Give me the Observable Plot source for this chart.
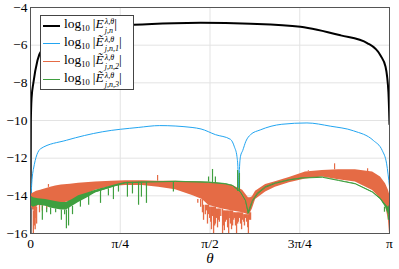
<!DOCTYPE html>
<html><head><meta charset="utf-8">
<script src="https://cdn.jsdelivr.net/npm/d3@7"></script>
<script src="https://cdn.jsdelivr.net/npm/@observablehq/plot@0.6"></script>
<style>
body{margin:0;background:#fff;}
#wrap{position:relative;width:399px;height:269px;font-family:"Liberation Serif",serif;color:#000;}
#wrap svg text{font-family:"Liberation Serif",serif;}
#legend{position:absolute;left:40px;top:15px;width:94px;height:75px;border:1px solid #444;background:#fff;box-sizing:border-box;}
.row{position:absolute;left:0;height:18px;display:flex;align-items:center;font-size:13.5px;white-space:nowrap;}
.sw{display:inline-block;width:17px;margin-left:2px;margin-right:4px;}
.ss{display:inline-flex;flex-direction:column;font-size:8px;line-height:9px;margin-left:1px;font-style:italic;vertical-align:4px;}
.sub10{font-size:8.5px;position:relative;top:3px;margin-right:3px;}
</style></head>
<body><div id="wrap"></div>
<script>
// x values are θ/π
const xTicks = [0, 0.25, 0.5, 0.75, 1];
const xTickLabels = ["0", "π/4", "π/2", "3π/4", "π"];
const yTicks = [-16, -14, -12, -10, -8, -6, -4];
const yTickLabels = ["−16", "−14", "−12", "−10", "−8", "−6", "−4"];

const seriesColors = ["#000000", "#22a5f1", "#e56b45", "#3f9f3f"];
const serif = "'Liberation Serif', serif";

// log10|E|
const blackTheta = [0, 0.001, 0.003, 0.008, 0.0195, 0.036, 0.084, 0.195, 0.287, 0.40, 0.474, 0.613, 0.752, 0.864, 0.939, 0.975, 0.989, 0.997, 1.0];
const blackLog   = [-16, -10, -8.8, -8.0, -6.8, -6.1, -5.35, -5.07, -4.92, -4.83, -4.81, -4.86, -5.02, -5.48, -5.9, -6.55, -7.15, -8.5, -10.2];

// log10|E~1|
const blueTheta = [0, 0.003, 0.008, 0.028, 0.1, 0.2, 0.3, 0.36, 0.45, 0.475, 0.515, 0.557, 0.568, 0.575, 0.578, 0.580, 0.582, 0.585, 0.591, 0.6, 0.613, 0.64, 0.70, 0.77, 0.835, 0.90, 0.955, 0.98, 0.992, 1.0];
const blueLog   = [-15, -13.5, -12.6, -11.5, -11.05, -10.6, -10.37, -10.27, -10.37, -10.45, -10.75, -11.0, -11.4, -11.9, -12.6, -13.9, -12.6, -11.9, -11.6, -11.1, -10.75, -10.5, -10.2, -10.13, -10.3, -10.55, -11.06, -11.6, -12.3, -13.5];

// log10|E~2| : dense band (upper / lower envelope) + spikes
const orangeTheta = [0, 0.003, 0.008, 0.017, 0.028, 0.042, 0.056, 0.070, 0.086, 0.111, 0.134, 0.181, 0.226, 0.265, 0.312, 0.357, 0.404, 0.451, 0.479, 0.496, 0.515, 0.535, 0.563, 0.591, 0.607, 0.613, 0.618, 0.627, 0.655, 0.682, 0.721, 0.766, 0.813, 0.858, 0.905, 0.953, 0.975, 0.989, 0.997, 1.0];
const orangeHigh  = [-14.0, -13.9, -13.85, -13.75, -13.7, -13.62, -13.55, -13.48, -13.42, -13.38, -13.33, -13.27, -13.22, -13.2, -13.2, -13.22, -13.22, -13.25, -13.28, -13.3, -13.33, -13.36, -13.45, -13.7, -14.1, -14.1, -14.05, -13.75, -13.4, -13.25, -13.02, -12.74, -12.65, -12.62, -12.62, -12.74, -13.0, -13.36, -13.7, -13.9];
const orangeLow   = [-14.5, -14.6, -14.8, -14.6, -14.4, -14.3, -14.35, -14.4, -14.4, -14.3, -14.1, -13.7, -13.5, -13.45, -13.45, -13.54, -13.68, -13.98, -14.2, -14.5, -14.6, -14.7, -14.8, -14.9, -15.0, -14.9, -14.7, -14.2, -13.8, -13.55, -13.3, -13.1, -13.0, -13.15, -13.27, -13.72, -14.16, -14.5, -15.3, -16];
const orangeSpikeTheta = [0.008, 0.011, 0.013, 0.015, 0.017, 0.025, 0.033, 0.045, 0.466, 0.474, 0.479, 0.482, 0.487, 0.490, 0.493, 0.496, 0.499, 0.502, 0.504, 0.507, 0.510, 0.513, 0.515, 0.518, 0.521, 0.524, 0.526, 0.530, 0.535, 0.538, 0.540, 0.543, 0.546, 0.549, 0.552, 0.555, 0.557, 0.560, 0.563, 0.566, 0.568, 0.571, 0.574, 0.577, 0.579, 0.582, 0.585, 0.588, 0.591, 0.594, 0.596, 0.599, 0.602, 0.605, 0.607, 0.610, 0.613];
const orangeSpikeLog   = [-16, -15.6, -15.8, -15.2, -15.5, -14.9, -14.8, -14.7, -14.4, -14.6, -14.9, -15.3, -15.0, -14.8, -15.5, -15.0, -15.2, -15.4, -15.8, -15.1, -16, -15.6, -15.5, -15.2, -15.7, -15.3, -15.4, -15.1, -16, -15.6, -15.85, -15.4, -15.3, -15.7, -16, -15.2, -15.5, -15.8, -15.6, -15.3, -15.2, -15.6, -16, -15.5, -15.4, -15.2, -15.5, -15.8, -15.3, -15.4, -15.6, -15.2, -15.4, -15.7, -16, -15.3, -15.3];
const orangeUpTheta = [0.050, 0.354, 0.774, 0.847, 0.939];
const orangeUpLog   = [-13.4, -12.92, -12.7, -12.3, -12.56];

// log10|E~3| : band + spikes
const greenTheta = [0, 0.008, 0.022, 0.042, 0.056, 0.070, 0.086, 0.100, 0.117, 0.134, 0.159, 0.181, 0.217, 0.245, 0.265, 0.334, 0.404, 0.496, 0.543, 0.563, 0.585, 0.599, 0.607, 0.618, 0.632, 0.655, 0.682, 0.721, 0.758, 0.813, 0.858, 0.905, 0.953, 0.975, 0.989, 0.997, 1.0];
const greenHigh  = [-14.0, -14.1, -14.15, -14.2, -14.25, -14.3, -14.35, -14.35, -14.2, -14.0, -13.85, -13.7, -13.52, -13.37, -13.29, -13.25, -13.22, -13.27, -13.35, -13.44, -13.77, -14.22, -14.85, -14.27, -13.87, -13.52, -13.32, -13.14, -13.04, -13.0, -13.17, -13.35, -13.78, -14.12, -14.45, -14.6, -14.5];
const greenLow   = [-14.5, -14.6, -14.5, -14.55, -14.65, -14.7, -14.75, -14.75, -14.55, -14.35, -14.1, -13.85, -13.63, -13.45, -13.33, -13.28, -13.25, -13.3, -13.38, -13.47, -13.82, -14.28, -15.0, -14.33, -13.93, -13.56, -13.35, -13.17, -13.07, -13.03, -13.2, -13.38, -13.83, -14.2, -14.6, -15.0, -15.0];
const greenSpikeTheta = [0.033, 0.045, 0.056, 0.070, 0.086, 0.095, 0.100, 0.106, 0.117, 0.139, 0.162, 0.195, 0.217, 0.231, 0.245, 0.270, 0.284, 0.301, 0.309, 0.323, 0.398, 0.986, 0.997];
const greenSpikeLog   = [-15.3, -14.9, -15.0, -14.9, -15.3, -15.0, -15.75, -15.6, -15.0, -14.6, -14.5, -14.4, -14.0, -14.2, -13.8, -14.07, -13.9, -14.5, -14.07, -14.4, -13.8, -14.87, -15.3];
const greenUpTheta = [0.496, 0.507, 0.515, 0.577, 0.582];
const greenUpLog   = [-13.0, -12.6, -13.0, -12.66, -12.8];

const at = (arr, thetas, t) => arr[Math.min(d3.bisectLeft(thetas, t), thetas.length - 1)];
const black = blackTheta.map((t, i) => ({t, v: blackLog[i]}));
const blue = blueTheta.map((t, i) => ({t, v: blueLog[i]}));
const orange = orangeTheta.map((t, i) => ({t, hi: orangeHigh[i], lo: orangeLow[i]}));
const orangeSpikes = orangeSpikeTheta.map((t, i) => ({t, v: orangeSpikeLog[i], base: at(orangeLow, orangeTheta, t)}));
const orangeUps = orangeUpTheta.map((t, i) => ({t, v: orangeUpLog[i], base: at(orangeHigh, orangeTheta, t)}));
const green = greenTheta.map((t, i) => ({t, hi: greenHigh[i], lo: greenLow[i], mid: (greenHigh[i] + greenLow[i]) / 2}));
const greenSpikes = greenSpikeTheta.map((t, i) => ({t, v: greenSpikeLog[i], base: at(greenLow, greenTheta, t)}));
const greenUps = greenUpTheta.map((t, i) => ({t, v: greenUpLog[i], base: at(greenHigh, greenTheta, t)}));

const chart = Plot.plot({
  width: 399, height: 269,
  marginLeft: 30, marginRight: 10, marginTop: 7, marginBottom: 36,
  style: {fontFamily: serif, fontSize: "13.5px", background: "#fff", color: "#000"},
  x: {domain: [0, 1]},
  y: {domain: [-16, -4]},
  marks: [
    Plot.gridX(xTicks, {stroke: "#e3e3e3", strokeOpacity: 1}),
    Plot.gridY(yTicks, {stroke: "#e3e3e3", strokeOpacity: 1}),
    Plot.line(black, {x: "t", y: "v", stroke: seriesColors[0], strokeWidth: 2, curve: "monotone-x", clip: true}),
    Plot.line(blue, {x: "t", y: "v", stroke: seriesColors[1], strokeWidth: 1, curve: "monotone-x", clip: true}),
    Plot.areaY(orange, {x: "t", y1: "lo", y2: "hi", fill: seriesColors[2], clip: true}),
    Plot.ruleX(orangeSpikes, {x: "t", y1: "base", y2: "v", stroke: seriesColors[2], strokeWidth: 1.3, clip: true}),
    Plot.ruleX(orangeUps, {x: "t", y1: "base", y2: "v", stroke: seriesColors[2], strokeWidth: 1.2, clip: true}),
    Plot.areaY(green, {x: "t", y1: "lo", y2: "hi", fill: seriesColors[3], clip: true}),
    Plot.line(green, {x: "t", y: "mid", stroke: seriesColors[3], strokeWidth: 1, clip: true}),
    Plot.ruleX(greenSpikes, {x: "t", y1: "base", y2: "v", stroke: seriesColors[3], strokeWidth: 1.2, clip: true}),
    Plot.ruleX(greenUps, {x: "t", y1: "base", y2: "v", stroke: seriesColors[3], strokeWidth: 1.2, clip: true}),
    Plot.frame({stroke: "#555", strokeWidth: 1}),
    Plot.axisX(xTicks, {tickSize: 0, tickPadding: 5, tickFormat: (d, i) => xTickLabels[i], label: null, fontFamily: serif, fontSize: 13.5}),
    Plot.axisY(yTicks, {tickSize: 0, tickPadding: 3, tickFormat: (d, i) => yTickLabels[i], label: null, fontFamily: serif, fontSize: 13.5}),
    Plot.text(["θ"], {frameAnchor: "bottom", dy: 29, fontStyle: "italic", fontSize: 15, fontFamily: serif})
  ]
});
const wrap = document.getElementById("wrap");
wrap.appendChild(chart);

// legend
const legendLabels = [
  {acc: "", sub: "j,n"},
  {acc: "\u0303", sub: "j,n,1"},
  {acc: "\u0303", sub: "j,n,2"},
  {acc: "\u0303", sub: "j,n,3"}
];
const lg = document.createElement("div");
lg.id = "legend";
legendLabels.forEach((l, i) => {
  const r = document.createElement("div");
  r.className = "row";
  r.style.top = (0.5 + i * 18) + "px";
  const sw = document.createElement("span");
  sw.className = "sw";
  sw.style.borderTop = (i === 0 ? 2 : 1) + "px solid " + seriesColors[i];
  r.appendChild(sw);
  const t = document.createElement("span");
  t.innerHTML = `log<span class="sub10">10</span>|<i>E${l.acc}</i><span class="ss"><span>λ,θ</span><span>${l.sub}</span></span>|`;
  r.appendChild(t);
  lg.appendChild(r);
});
wrap.appendChild(lg);
</script>
</body></html>
